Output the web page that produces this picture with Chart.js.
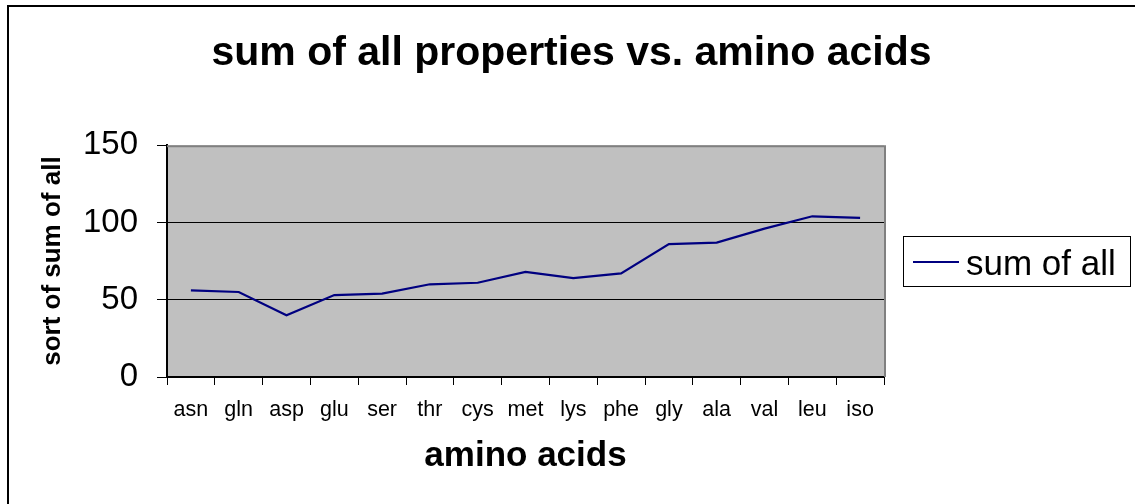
<!DOCTYPE html>
<html>
<head>
<meta charset="utf-8">
<script src="https://cdn.jsdelivr.net/npm/chart.js@4/dist/chart.umd.min.js"></script>
<style>
  html, body { margin: 0; padding: 0; background: #fff; }
  #wrap { width: 1135px; height: 504px; position: relative; }
</style>
</head>
<body>
<div id="wrap"><canvas id="chart1"></canvas></div>
<script>
const aminoAcids = ['asn', 'gln', 'asp', 'glu', 'ser', 'thr', 'cys', 'met', 'lys', 'phe', 'gly', 'ala', 'val', 'leu', 'iso'];
const sumOfAll = [56, 55, 40, 53, 54, 60, 61, 68, 64, 67, 86, 87, 96, 104, 103];
const yTicks = [0, 50, 100, 150];

const FONT = 'Arial, "Liberation Sans", sans-serif';

// grey plot area, outer frame and the boxed legend
const excelLook = {
    id: 'excelLook',
    beforeDraw(chart) {
        const ctx = chart.ctx;
        const a = chart.chartArea;
        ctx.save();
        ctx.fillStyle = '#fff';
        ctx.fillRect(0, 0, chart.width, chart.height);
        ctx.fillStyle = '#c0c0c0';
        ctx.fillRect(a.left, a.top, a.right - a.left, a.bottom - a.top);
        ctx.strokeStyle = '#000';
        ctx.lineWidth = 2;
        ctx.strokeRect(8, 6, chart.width + 10, chart.height + 10);
        ctx.restore();
    },
    afterDatasetsDraw(chart) {
        const ctx = chart.ctx;
        const a = chart.chartArea;
        ctx.save();
        ctx.strokeStyle = '#808080';
        ctx.lineWidth = 2;
        ctx.beginPath();
        ctx.moveTo(a.left, a.top + 1);
        ctx.lineTo(a.right + 1, a.top + 1);
        ctx.lineTo(a.right + 1, a.bottom);
        ctx.stroke();
        // legend
        const ds = chart.data.datasets[0];
        ctx.fillStyle = '#fff';
        ctx.fillRect(903.5, 236.5, 227, 50);
        ctx.strokeStyle = '#000';
        ctx.lineWidth = 1;
        ctx.strokeRect(903.5, 236.5, 227, 50);
        ctx.strokeStyle = ds.borderColor;
        ctx.lineWidth = 2;
        ctx.beginPath();
        ctx.moveTo(913, 262);
        ctx.lineTo(959, 262);
        ctx.stroke();
        ctx.fillStyle = '#000';
        ctx.font = '35px ' + FONT;
        ctx.textBaseline = 'alphabetic';
        ctx.textAlign = 'left';
        ctx.fillText(ds.label, 966, 275);
        ctx.restore();
    }
};

const chart1 = document.getElementById('chart1');
const myChart = new Chart(chart1, {
    type: 'line',
    data: {
        labels: aminoAcids,
        datasets: [{
            label: 'sum of all',
            data: sumOfAll,
            borderColor: '#000080',
            borderWidth: 2.2,
            pointRadius: 0,
            fill: false,
            tension: 0
        }]
    },
    options: {
        responsive: true,
        maintainAspectRatio: false,
        animation: false,
        layout: {
            padding: { left: 8, top: 8, right: 0, bottom: 10 }
        },
        plugins: {
            legend: { display: false },
            tooltip: { enabled: false },
            title: {
                display: true,
                text: 'sum of all properties vs. amino acids',
                color: '#000',
                font: { family: FONT, size: 41, weight: 'bold', lineHeight: 1.2 },
                padding: { top: 21, bottom: 67 }
            }
        },
        scales: {
            x: {
                offset: true,
                grid: {
                    offset: true,
                    drawOnChartArea: false,
                    drawTicks: true,
                    tickLength: 8,
                    color: '#000'
                },
                border: { color: '#000', width: 2 },
                ticks: {
                    color: '#000',
                    padding: 12,
                    maxRotation: 0,
                    autoSkip: false,
                    font: { family: FONT, size: 21.5 }
                },
                title: {
                    display: true,
                    text: 'amino acids',
                    color: '#000',
                    font: { family: FONT, size: 35, weight: 'bold', lineHeight: 1.2 },
                    padding: { top: 0, bottom: 17 }
                },
                afterFit(scale) { scale.height = 117; }
            },
            y: {
                min: yTicks[0],
                max: yTicks[yTicks.length - 1],
                afterBuildTicks(scale) { scale.ticks = yTicks.map(v => ({ value: v })); },
                grid: {
                    color: ctx => (ctx.tick && ctx.tick.value === 150 ? 'rgba(0,0,0,0)' : '#000'),
                    lineWidth: 1,
                    tickLength: 10,
                    tickColor: '#000'
                },
                border: { color: '#000', width: 2 },
                ticks: {
                    color: '#000',
                    padding: 19,
                    font: { family: FONT, size: 33 }
                },
                title: {
                    display: true,
                    text: 'sort of sum of all',
                    color: '#000',
                    font: { family: FONT, size: 26, weight: 'bold', lineHeight: 1.2 },
                    padding: { top: 29, bottom: 0 }
                },
                afterFit(scale) { scale.width = 159; }
            },
            // empty right-hand axis that only reserves the room the legend sits in
            legendRoom: {
                position: 'right',
                display: true,
                grid: { display: false },
                border: { display: false },
                ticks: { display: false },
                afterFit(scale) { scale.width = 251; }
            }
        }
    },
    plugins: [excelLook]
});
</script>
</body>
</html>
